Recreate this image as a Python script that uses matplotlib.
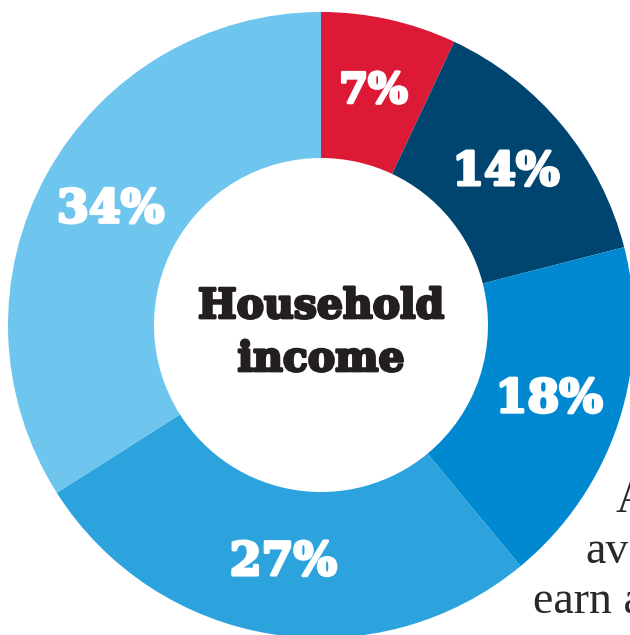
import matplotlib
matplotlib.use("Agg")
import matplotlib.pyplot as plt
import matplotlib.patheffects as pe
import numpy as np

# Data
shares = [7, 14, 18, 27, 34]
labels = ["7%", "14%", "18%", "27%", "34%"]
colors = ["#DC1A36", "#004570", "#0089D0", "#2CA3DD", "#6EC6EE"]
center_title = ["Household", "income"]
side_text = ["A", "ave", "earn a"]

W, H = 630, 635
fig = plt.figure(figsize=(W / 100, H / 100), dpi=100)
ax = fig.add_axes([0, 0, 1, 1])

cx, cy = 321, H - 325
R, r = 313, 167

wedges, _ = ax.pie(
    shares, colors=colors, startangle=90, counterclock=False,
    center=(cx, cy), radius=R,
    wedgeprops=dict(width=R - r, linewidth=0),
)

total = sum(shares)
cum = 0
for val, lab in zip(shares, labels):
    mid = (cum + val / 2) / total
    ang = np.deg2rad(90 - 360 * mid)
    d = (R + r) / 2
    x = cx + d * np.cos(ang)
    y = cy + d * np.sin(ang)
    ax.text(x, y, lab, ha="center", va="center", color="white",
            fontsize=30 if val < 10 else 33, fontweight="bold",
            family="DejaVu Serif",
            path_effects=[pe.withStroke(linewidth=2.2, foreground="white")])
    cum += val

for txt, yb in zip(center_title, [318, 371]):
    ax.text(cx, H - yb, txt, ha="center", va="baseline",
            fontsize=29.5, fontweight="bold", family="DejaVu Serif",
            color="#231F20",
            path_effects=[pe.withStroke(linewidth=2.0, foreground="#231F20")])

# Paragraph text fragments at right (cut off by the page edge in the original)
for txt, (x, yb) in zip(side_text, [(615, 512), (585, 563), (533, 613)]):
    ax.text(x, H - yb, txt, ha="left", va="baseline", fontsize=33,
            family="Liberation Serif", color="#2A2A2A")

ax.set_xlim(0, W)
ax.set_ylim(0, H)
ax.set_aspect("equal")
ax.axis("off")
fig.savefig("out.png", dpi=100, facecolor="white")
